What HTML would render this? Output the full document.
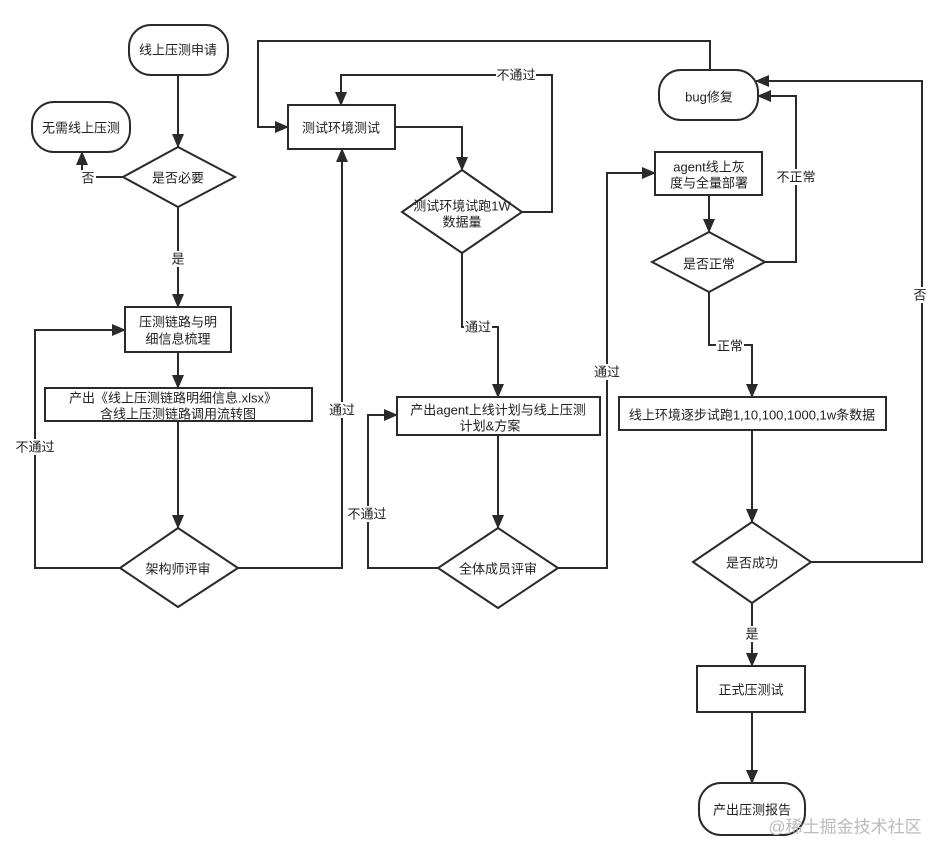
<!DOCTYPE html>
<html><head><meta charset="utf-8"><style>
html,body{margin:0;padding:0;background:#fff}
svg{display:block}
text{font-family:"Liberation Sans","Noto Sans CJK SC",sans-serif;font-size:13px;fill:#222;text-anchor:middle;dominant-baseline:central}
.s{fill:#fff;stroke:#2a2a2a;stroke-width:2}
.l{fill:none;stroke:#2a2a2a;stroke-width:2}
.lb{fill:#fff}
</style></head><body>
<svg width="946" height="860" viewBox="0 0 946 860">
<defs><marker id="a" markerWidth="14" markerHeight="12" refX="13" refY="6" orient="auto" markerUnits="userSpaceOnUse"><path d="M0,0 L14,6 L0,12 z" fill="#2a2a2a"/></marker></defs>

<path class="l" d="M178,75 V147" marker-end="url(#a)"/>
<path class="l" d="M123,177 H82 V152" marker-end="url(#a)"/>
<path class="l" d="M178,207 V307" marker-end="url(#a)"/>
<path class="l" d="M178,352 V388" marker-end="url(#a)"/>
<path class="l" d="M178,421 V528" marker-end="url(#a)"/>
<path class="l" d="M120,568 H35 V330 H125" marker-end="url(#a)"/>
<path class="l" d="M238,568 H342 V149" marker-end="url(#a)"/>
<path class="l" d="M710,70 V41 H258 V127 H288" marker-end="url(#a)"/>
<path class="l" d="M395,127 H462 V170" marker-end="url(#a)"/>
<path class="l" d="M522,212 H552 V75 H341 V105" marker-end="url(#a)"/>
<path class="l" d="M462,253 V327 H498 V397" marker-end="url(#a)"/>
<path class="l" d="M498,435 V528" marker-end="url(#a)"/>
<path class="l" d="M438,568 H368 V415 H397" marker-end="url(#a)"/>
<path class="l" d="M558,568 H607 V173 H655" marker-end="url(#a)"/>
<path class="l" d="M709,195 V232" marker-end="url(#a)"/>
<path class="l" d="M765,262 H796 V96 H758" marker-end="url(#a)"/>
<path class="l" d="M811,562 H922 V81 H756" marker-end="url(#a)"/>
<path class="l" d="M709,292 V345 H752 V397" marker-end="url(#a)"/>
<path class="l" d="M752,430 V522" marker-end="url(#a)"/>
<path class="l" d="M752,603 V666" marker-end="url(#a)"/>
<path class="l" d="M752,712 V783" marker-end="url(#a)"/>

<rect class="s" x="129" y="25" width="99" height="50" rx="22"/>
<text x="178" y="50">线上压测申请</text>
<rect class="s" x="32" y="102" width="98" height="50" rx="22"/>
<text x="81" y="128">无需线上压测</text>
<polygon class="s" points="178,147 235,177 178,207 123,177"/>
<text x="178" y="178">是否必要</text>
<rect class="s" x="125" y="307" width="106" height="45"/>
<text x="178" y="322">压测链路与明</text><text x="178" y="339">细信息梳理</text>
<rect class="s" x="45" y="388" width="267" height="33"/>
<text x="173" y="398">产出《线上压测链路明细信息.xlsx》</text><text x="178" y="414">含线上压测链路调用流转图</text>
<polygon class="s" points="178,528 238,568 178,607 120,568"/>
<text x="178" y="569">架构师评审</text>
<rect class="s" x="288" y="105" width="107" height="44"/>
<text x="341" y="128">测试环境测试</text>
<polygon class="s" points="462,170 522,212 462,253 402,212"/>
<text x="462" y="206">测试环境试跑1W</text><text x="462" y="222">数据量</text>
<rect class="s" x="397" y="397" width="203" height="38"/>
<text x="498" y="410">产出agent上线计划与线上压测</text><text x="490" y="426">计划&amp;方案</text>
<polygon class="s" points="498,528 558,568 498,608 438,568"/>
<text x="498" y="569">全体成员评审</text>
<rect class="s" x="659" y="70" width="99" height="50" rx="22"/>
<text x="709" y="97">bug修复</text>
<rect class="s" x="655" y="152" width="107" height="43"/>
<text x="709" y="167">agent线上灰</text><text x="709" y="183">度与全量部署</text>
<polygon class="s" points="709,232 765,262 709,292 652,262"/>
<text x="709" y="264">是否正常</text>
<rect class="s" x="619" y="397" width="267" height="33"/>
<text x="752" y="415">线上环境逐步试跑1,10,100,1000,1w条数据</text>
<polygon class="s" points="752,522 811,562 752,603 693,562"/>
<text x="752" y="563">是否成功</text>
<rect class="s" x="697" y="666" width="108" height="46"/>
<text x="751" y="690">正式压测试</text>
<rect class="s" x="699" y="783" width="106" height="52" rx="22"/>
<text x="752" y="810">产出压测报告</text>

<rect class="lb" x="80" y="170" width="16" height="16"/><text x="88" y="178">否</text>
<rect class="lb" x="171" y="251" width="15" height="16"/><text x="178" y="259">是</text>
<rect class="lb" x="15" y="439" width="40" height="16"/><text x="35" y="447">不通过</text>
<rect class="lb" x="328" y="402" width="28" height="16"/><text x="342" y="410">通过</text>
<rect class="lb" x="496" y="67" width="40" height="16"/><text x="516" y="75">不通过</text>
<rect class="lb" x="464" y="319" width="28" height="16"/><text x="478" y="327">通过</text>
<rect class="lb" x="347" y="506" width="40" height="16"/><text x="367" y="514">不通过</text>
<rect class="lb" x="593" y="364" width="28" height="16"/><text x="607" y="372">通过</text>
<rect class="lb" x="776" y="169" width="40" height="16"/><text x="796" y="177">不正常</text>
<rect class="lb" x="914" y="287" width="15" height="16"/><text x="920" y="295">否</text>
<rect class="lb" x="716" y="338" width="28" height="16"/><text x="730" y="346">正常</text>
<rect class="lb" x="745" y="626" width="15" height="16"/><text x="752" y="634">是</text>
<text x="845" y="827" style="font-size:17px;fill:#bbb">@稀土掘金技术社区</text>
</svg>
</body></html>
